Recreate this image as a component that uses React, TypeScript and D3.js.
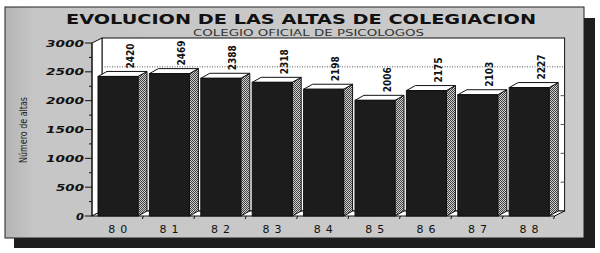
import React from 'react';
import * as d3 from 'd3';

const years = ['80', '81', '82', '83', '84', '85', '86', '87', '88'];
const altas = [2420, 2469, 2388, 2318, 2198, 2006, 2175, 2103, 2227];
const yTicks = [0, 500, 1000, 1500, 2000, 2500, 3000];
const minorTicks = [250, 750, 1250, 1750, 2250, 2750];
const gridValues = [2500];
const title = 'EVOLUCION DE LAS ALTAS DE COLEGIACION';
const subtitle = 'COLEGIO OFICIAL DE PSICOLOGOS';
const yTitle = 'Número de altas';

export default function App() {
  const W = 600, H = 253;
  const axisX = 92;
  const x = d3.scaleBand<string>().domain(years).range([axisX, axisX + 9 * 51.4]).padding(0);
  const y = d3.scaleLinear().domain([0, 3000]).range([216, 43]);
  const wdx = 10, wdy = -5; // wall depth
  const bdx = 9, bdy = -5; // bar depth
  const barOff = 6, barW = 40;
  const x0 = axisX, x1 = x.range()[1];
  const y0 = y(0), yTop = y(3000);

  const condensed = "'Liberation Sans Narrow', 'DejaVu Sans Condensed', 'Liberation Sans', sans-serif";
  const wide = "'DejaVu Sans', 'Verdana', sans-serif";

  return (
    <svg width={W} height={H} style={{ position: 'absolute', left: 0, top: 0 }}>
      <defs>
        <pattern id="hatch" width="2" height="2" patternUnits="userSpaceOnUse">
          <rect width="2" height="2" fill="#cfcfcf" />
          <rect x="0" y="0" width="1" height="1" fill="#404040" />
          <rect x="1" y="1" width="1" height="1" fill="#404040" />
        </pattern>
        <linearGradient id="panelGrad" x1="0" x2="1" y1="0" y2="0">
          <stop offset="0" stopColor="#b4b4b4" />
          <stop offset="0.05" stopColor="#c6c6c6" />
          <stop offset="1" stopColor="#cbcbcb" />
        </linearGradient>
      </defs>
      <rect width={W} height={H} fill="#ffffff" />
      {/* shadow */}
      <rect x={14} y={18} width={581} height={230} fill="#1e1e1e" />
      {/* panel */}
      <rect x={5} y={7} width={579} height={231} fill="url(#panelGrad)" stroke="#222" strokeWidth={1} />

      {/* titles */}
      <text x={66} y={24} textLength={470} lengthAdjust="spacingAndGlyphs"
        fontFamily={wide} fontWeight="bold" fontSize={14.5} fill="#111">{title}</text>
      <text x={193} y={36} textLength={231} lengthAdjust="spacingAndGlyphs"
        fontFamily={wide} fontSize={8.5} fill="#333">{subtitle}</text>

      {/* back wall */}
      <rect x={x0 + wdx} y={yTop + wdy} width={x1 - x0} height={y0 - yTop} fill="#fff" stroke="#111" strokeWidth={1} />
      {/* left wall */}
      <polygon points={`${x0},${yTop} ${x0 + wdx},${yTop + wdy} ${x0 + wdx},${y0 + wdy} ${x0},${y0}`}
        fill="#fff" stroke="#111" strokeWidth={1} />
      {/* floor */}
      <polygon points={`${x0},${y0} ${x0 + wdx},${y0 + wdy} ${x1 + wdx},${y0 + wdy} ${x1},${y0}`}
        fill="#fff" stroke="#111" strokeWidth={1} />
      {/* gridlines */}
      {gridValues.map(v => (
        <line key={v} x1={x0 + wdx} x2={x1 + wdx} y1={y(v) + wdy} y2={y(v) + wdy}
          stroke="#555" strokeWidth={1} strokeDasharray="1,1.5" />
      ))}
      {[2000, 1500, 1000, 500].map(v => (
        <line key={'r' + v} x1={x1 + wdx - 4} x2={x1 + wdx} y1={y(v) + wdy} y2={y(v) + wdy}
          stroke="#555" strokeWidth={1} />
      ))}

      {/* bars */}
      {years.map((yr, i) => {
        const v = altas[i];
        const bx = (x(yr) as number) + barOff;
        const ty = y(v);
        const side = `${bx + barW},${ty} ${bx + barW + bdx},${ty + bdy} ${bx + barW + bdx},${y0 + bdy} ${bx + barW},${y0}`;
        const top = `${bx},${ty} ${bx + bdx},${ty + bdy} ${bx + barW + bdx},${ty + bdy} ${bx + barW},${ty}`;
        return (
          <g key={yr}>
            <polygon points={side} fill="url(#hatch)" stroke="#111" strokeWidth={1} />
            <polygon points={top} fill="#fff" stroke="#111" strokeWidth={1} />
            <rect x={bx} y={ty} width={barW} height={y0 - ty} fill="#1c1c1c" stroke="#111" strokeWidth={1} />
            <text transform={`translate(${(x(yr) as number) + 41.5},${ty + bdy - 3}) rotate(-90)`}
              fontFamily={condensed} fontWeight="bold" fontSize={11} fill="#111"
              textLength={25} lengthAdjust="spacingAndGlyphs">{v}</text>
          </g>
        );
      })}

      {/* y axis */}
      <line x1={x0} x2={x0} y1={yTop} y2={y0} stroke="#111" strokeWidth={1} />
      {yTicks.map(v => (
        <g key={v}>
          <line x1={x0 - 7} x2={x0} y1={y(v)} y2={y(v)} stroke="#111" strokeWidth={1} />
          <text x={84 - (String(v).length * 10 - 2)} y={y(v) + 3.5}
            textLength={String(v).length * 10 - 2} lengthAdjust="spacingAndGlyphs"
            fontFamily={wide} fontWeight="bold" fontStyle="italic" fontSize={9.5} fill="#111">{v}</text>
        </g>
      ))}
      {minorTicks.map(v => (
        <line key={v} x1={x0 - 3} x2={x0} y1={y(v)} y2={y(v)} stroke="#111" strokeWidth={1} />
      ))}
      {/* x ticks */}
      {years.map(yr => (
        <line key={'t' + yr} x1={(x(yr) as number) + 51.4} x2={(x(yr) as number) + 51.4 - 1}
          y1={y0} y2={y0 + 3} stroke="#111" strokeWidth={1} />
      ))}
      {years.map(yr => (
        <text key={'l' + yr} x={(x(yr) as number) + x.bandwidth() / 2 + 2.5} y={233}
          textAnchor="middle" fontFamily={wide} fontSize={11} letterSpacing={5} fill="#111">{yr}</text>
      ))}

      {/* y title */}
      <text transform="translate(27,130) rotate(-90)" textAnchor="middle"
        fontFamily={condensed} fontSize={11} fill="#222" textLength={66} lengthAdjust="spacingAndGlyphs">{yTitle}</text>
    </svg>
  );
}
